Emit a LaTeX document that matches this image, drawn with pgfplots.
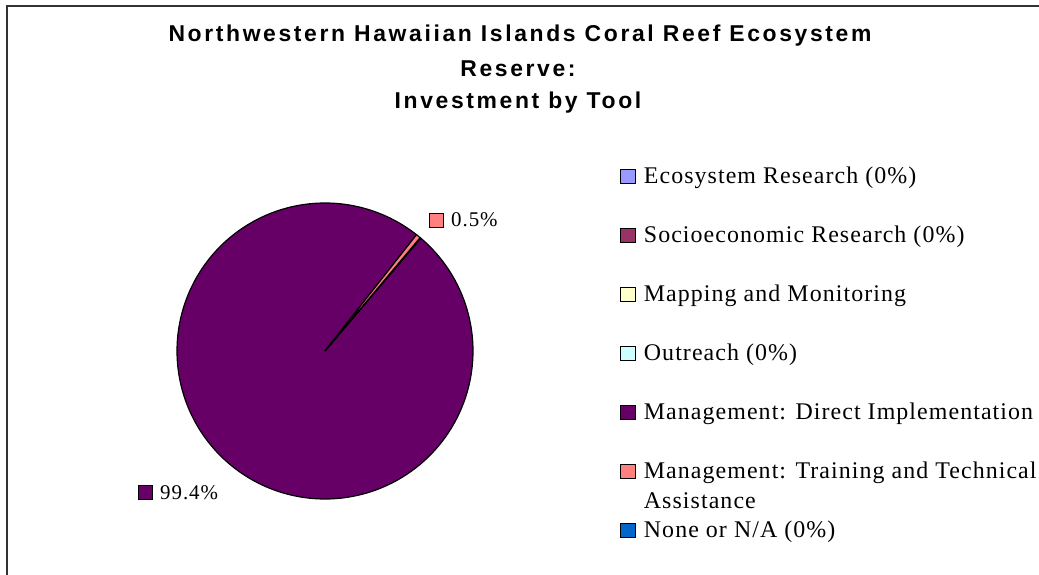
\documentclass[border=0pt]{standalone}
\usepackage{pgfplots}
\pgfplotsset{compat=1.18}
\usepackage{fontspec}
\setmainfont{Liberation Serif}
\newfontfamily\titlefont{Liberation Sans}[LetterSpace=11.5]
\newfontfamily\legfont{Liberation Serif}[LetterSpace=4.5]

\definecolor{cEco}{HTML}{9999FF}
\definecolor{cSoc}{HTML}{993366}
\definecolor{cMap}{HTML}{FFFFCC}
\definecolor{cOut}{HTML}{CCFFFF}
\definecolor{cDir}{HTML}{660066}
\definecolor{cTra}{HTML}{FF8080}
\definecolor{cNon}{HTML}{0066CC}

% shares of the investment (percent)
\def\vEco{0}
\def\vSoc{0}
\def\vMap{0.1}
\def\vOut{0}
\def\vDir{99.4}
\def\vTra{0.5}
\def\vNon{0}

\newcommand{\lsq}[1]{{\setlength{\fboxsep}{0pt}\setlength{\fboxrule}{1.2bp}\fcolorbox{black}{#1}{\rule{0pt}{12.6bp}\rule{12.6bp}{0pt}}}}

\begin{document}
\begin{tikzpicture}
\pgfmathsetmacro\aS{50}
\pgfmathsetmacro\aMapA{\aS-\vMap*3.6}
\pgfmathsetmacro\aTraB{\aS+\vTra*3.6}
\pgfmathsetmacro\aDirB{\aS-\vMap*3.6+360}
\begin{axis}[
  at={(0,0)}, anchor=south west,
  width=1039bp, height=574bp, scale only axis,
  xmin=0, xmax=1039, ymin=0, ymax=574,
  hide axis, clip=false,
  legend image code/.code={\draw[#1,draw=black,line width=1.2bp] (0bp,-0.5bp) rectangle (14.5bp,14bp);},
  legend cell align=left,
  legend style={at={(axis cs:620,408)}, anchor=north west, draw=none, fill=none,
    inner sep=0pt, row sep=37bp, column sep=8bp,
    font=\legfont\fontsize{24}{32}\selectfont,
    nodes={inner sep=0pt, text height=17bp, text depth=5bp, anchor=base west}},
]
\coordinate (BL) at (axis cs:0,0);
\coordinate (TR) at (axis cs:1039,574);
% frame
\draw[color=black!80, line width=2bp] (axis cs:6.5,-20) -- (axis cs:6.5,567.5) -- (axis cs:1080,567.5);

% pie slices
\addplot[fill=cDir, draw=black, line width=1.2bp, domain=\aTraB:\aDirB, samples=300, variable=\t, forget plot]
  ({325+148*cos(\t)},{223+148*sin(\t)}) -- (axis cs:325,223) -- cycle;
\addplot[fill=cMap, draw=black, line width=1.2bp, domain=\aMapA:\aS, samples=3, variable=\t, forget plot]
  ({325+148*cos(\t)},{223+148*sin(\t)}) -- (axis cs:325,223) -- cycle;
\addplot[fill=cTra, draw=black, line width=1.2bp, domain=\aS:\aTraB, samples=5, variable=\t, forget plot]
  ({325+148*cos(\t)},{223+148*sin(\t)}) -- (axis cs:325,223) -- cycle;

% legend
\addlegendimage{fill=cEco}\addlegendentry{Ecosystem Research (0\%)}
\addlegendimage{fill=cSoc}\addlegendentry{Socioeconomic Research (0\%)}
\addlegendimage{fill=cMap}\addlegendentry{Mapping and Monitoring}
\addlegendimage{fill=cOut}\addlegendentry{Outreach (0\%)}
\addlegendimage{fill=cDir}\addlegendentry{Management: Direct Implementation}
\addlegendimage{fill=cTra}\addlegendentry{\smash{\begin{tabular}[t]{@{}l@{}}Management: Training and Technical\\[-2bp]Assistance\end{tabular}}}
\addlegendimage{fill=cNon}\addlegendentry{None or N/A (0\%)}

% data labels
\node[anchor=base west, inner sep=0pt, font=\legfont\fontsize{21}{25}\selectfont] at (axis cs:429,347) {\lsq{cTra}\hspace{7bp}0.5\%};
\node[anchor=base west, inner sep=0pt, font=\legfont\fontsize{21}{25}\selectfont] at (axis cs:138,75) {\lsq{cDir}\hspace{7bp}99.4\%};

% title
\node[anchor=base, inner sep=0pt, font=\titlefont\bfseries\fontsize{23}{28}\selectfont] at (axis cs:520,532.5) {Northwestern Hawaiian Islands Coral Reef Ecosystem};
\node[anchor=base, inner sep=0pt, font=\titlefont\bfseries\fontsize{23}{28}\selectfont] at (axis cs:518,497.5) {Reserve:};
\node[anchor=base, inner sep=0pt, font=\titlefont\bfseries\fontsize{23}{28}\selectfont] at (axis cs:518,465.5) {Investment by Tool};
\end{axis}
\pgfresetboundingbox
\path[use as bounding box] (BL) rectangle (TR);
\end{tikzpicture}
\end{document}
